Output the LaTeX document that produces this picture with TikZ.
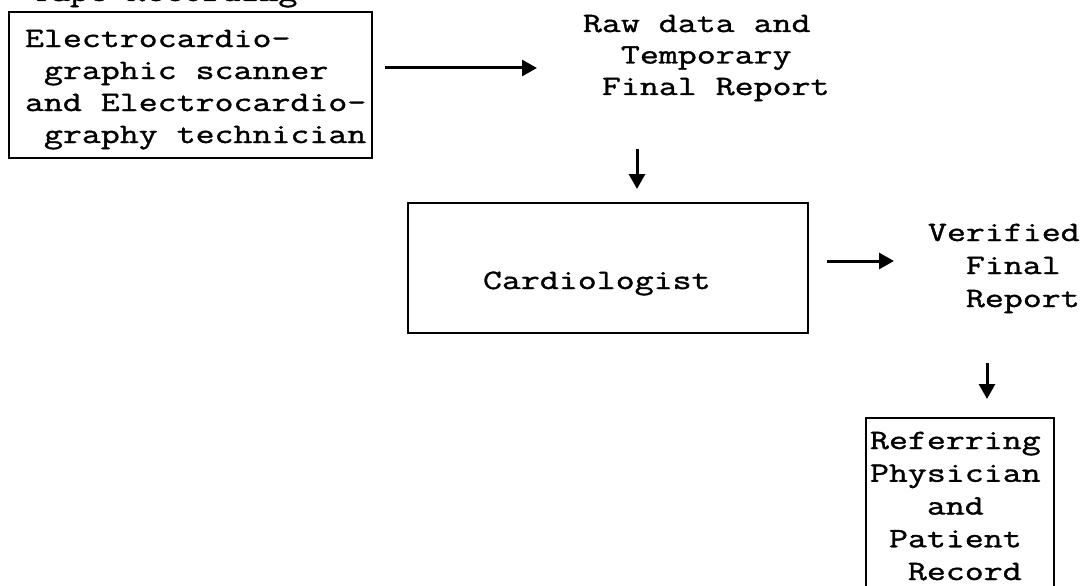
\documentclass[tikz,border=0pt]{standalone}
\usepackage{fontspec}
\setmainfont{Latin Modern Mono}[FakeStretch=1.315, FakeBold=1.3]
\usetikzlibrary{arrows.meta}
\tikzset{
  box/.style={draw=black, line width=2.8pt, inner sep=0pt, outer sep=0pt, anchor=north west},
  txt/.style={inner sep=0pt, outer sep=0pt, anchor=base west, align=left,
     font=\fontsize{28pt}{32.6pt}\selectfont},
  arr/.style={line width=3pt, -{Triangle[length=15pt,width=16pt]}}
}
\newcommand\ind[1]{\phantom{#1}}
\begin{document}
\begin{tikzpicture}[x=1pt,y=-1pt]
\useasboundingbox (0,0) rectangle (1084,586);
\fill[white] (0,0) rectangle (1084,586);
% boxes
\node[box, minimum width=363pt, minimum height=146pt] (box1) at (9,12) {};
\node[box, minimum width=400pt, minimum height=130pt] (card) at (408,203) {};
\draw[line width=2.6pt] (866,600) -- (866,418) -- (1054,418) -- (1054,600);
\coordinate (refbox) at (960,418);
% texts (anchor base = baseline of the last line)
\node[txt] (tape) at (32,1) {Tape Recording};
\node[txt, font=\fontsize{28pt}{32pt}\selectfont] (ecg) at (25,143)
  {Electrocardio-\\\ind{x}graphic scanner\\and Electrocardio-\\\ind{x}graphy technician};
\node[txt, font=\fontsize{28pt}{31.5pt}\selectfont] (raw) at (583,95)
  {Raw data and\\\ind{xx}Temporary\\\ind{x}Final Report};
\node[txt] (cardtxt) at (483,289) {Cardiologist};
\node[txt, font=\fontsize{28pt}{33pt}\selectfont] (ver) at (928,307)
  {Verified\\\ind{xx}Final\\\ind{xx}Report};
\node[txt, font=\fontsize{28pt}{32.75pt}\selectfont] (refp) at (870,580)
  {Referring\\Physician\\\ind{xxx}and\\\ind{x}Patient\\\ind{xx}Record};
% connector ends
\coordinate (a1s) at (385,68);
\coordinate (a1e) at (537,68);
\coordinate (a2s) at (637,149);
\coordinate (a2e) at (637,189);
\coordinate (a3s) at (827,261);
\coordinate (a3e) at (894,261);
\coordinate (a4s) at (987,363);
\coordinate (a4e) at (987,399);
\draw[arr] (a1s) -- (a1e);
\draw[arr] (a2s) -- (a2e);
\draw[arr] (a3s) -- (a3e);
\draw[arr] (a4s) -- (a4e);
\end{tikzpicture}
\end{document}
